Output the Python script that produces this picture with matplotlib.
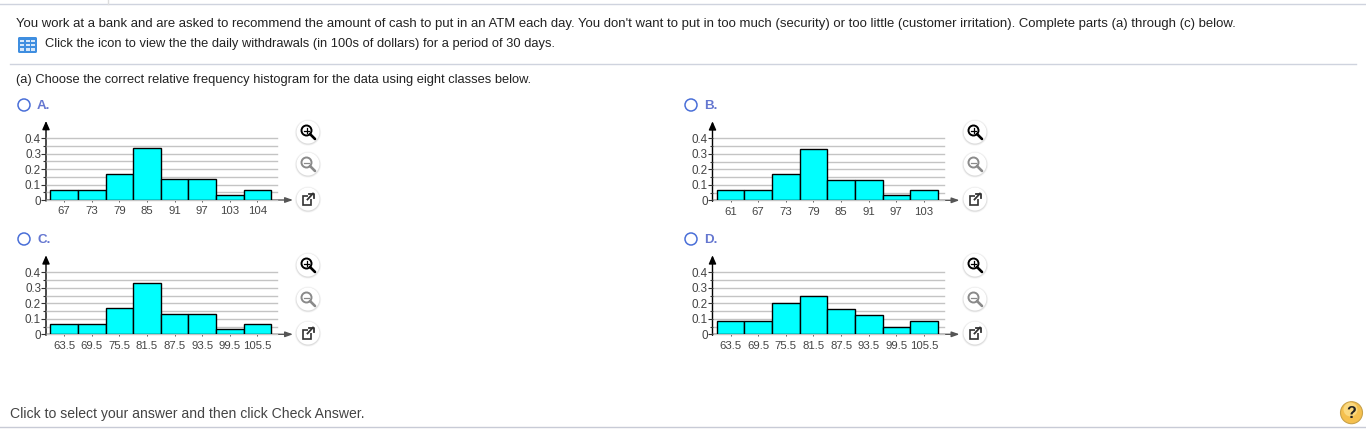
import matplotlib
matplotlib.use('Agg')
import matplotlib.pyplot as plt
from matplotlib.patches import Circle, Rectangle, FancyBboxPatch

# relative frequencies
freq_abc = [0.0667, 0.0667, 0.1667, 0.3333, 0.1333, 0.1333, 0.0333, 0.0667]
freq_d = [0.083, 0.083, 0.2, 0.245, 0.163, 0.125, 0.047, 0.083]

labels_a = ['67', '73', '79', '85', '91', '97', '103', '104']
labels_b = ['61', '67', '73', '79', '85', '91', '97', '103']
labels_cd = ['63.5', '69.5', '75.5', '81.5', '87.5', '93.5', '99.5', '105.5']

W, H = 1366, 437
plt.rcParams['font.family'] = ['Liberation Sans', 'DejaVu Sans']
fig = plt.figure(figsize=(W / 100, H / 100), dpi=100, facecolor='white')

# page layer in pixel coordinates
page = fig.add_axes([0, 0, 1, 1], zorder=0)
page.set_xlim(0, W)
page.set_ylim(H, 0)
page.axis('off')


def px_axes(left, right, top, bottom, **kw):
    return fig.add_axes([left / W, 1 - bottom / H, (right - left) / W, (bottom - top) / H], **kw)


def histogram(y_axis_x, base_y, values, labels):
    # 0.4 sits 62 px above the baseline, bars are about 27.6 px wide
    ax = px_axes(y_axis_x, y_axis_x + 231, base_y - 62, base_y, zorder=2)
    ax.patch.set_alpha(0)
    ax.set_xlim(-0.656, 7.706)
    ax.set_ylim(0, 0.4)
    ax.set_yticks([0, 0.1, 0.2, 0.3, 0.4])
    ax.set_yticklabels(['0', '0.1', '0.2', '0.3', '0.4'])
    ax.set_yticks([0.05, 0.15, 0.25, 0.35], minor=True)
    ax.set_xticks(range(8))
    ax.set_xticklabels(labels)
    ax.grid(True, axis='y', which='both', color='#c4c4c4', lw=1.0, clip_on=False)
    ax.set_axisbelow(True)
    ax.bar(range(8), values, width=1, color='#00ffff', edgecolor='black', lw=1.0, zorder=3)
    for s in ['top', 'right', 'bottom', 'left']:
        ax.spines[s].set_visible(False)
    ax.tick_params(axis='y', which='major', length=3.6, width=0.8, color='#333333',
                   labelsize=8.4, labelcolor='#444444', pad=0)
    ax.tick_params(axis='y', which='minor', length=2, width=0.8, color='#333333')
    ax.tick_params(axis='x', length=1.5, width=0.7, color='#555555',
                   labelsize=8.2, labelcolor='#444444', pad=3)
    # axis arrows
    page.annotate('', xy=(y_axis_x, base_y - 79), xytext=(y_axis_x, base_y + 1),
                  arrowprops=dict(arrowstyle='-|>,head_width=0.22,head_length=0.5',
                                  color='black', lw=1, shrinkA=0, shrinkB=0))
    page.annotate('', xy=(y_axis_x + 247, base_y), xytext=(y_axis_x, base_y),
                  arrowprops=dict(arrowstyle='-|>,head_width=0.16,head_length=0.45',
                                  color='#555555', lw=1, shrinkA=0, shrinkB=0))


def button(x, y, kind):
    # round white button with a soft shadow
    for r, a in [(13.2, 0.03), (12.5, 0.05), (11.9, 0.06)]:
        page.add_patch(Circle((x, y + 0.6), r, fc='black', ec='none', alpha=a))
    page.add_patch(Circle((x, y), 11.5, fc='white', ec='none'))
    if kind == 'link':
        page.add_patch(Rectangle((x - 5, y - 3), 8, 8.5, fc='none', ec='#333333', lw=1.2))
        page.add_patch(Rectangle((x - 0.5, y - 6), 6.5, 6, fc='white', ec='none'))
        page.plot([x - 0.5, x + 5], [y + 0.5, y - 5.5], color='#333333', lw=1.3)
        page.plot([x + 1, x + 5.5, x + 5.5], [y - 5.5, y - 5.5, y - 1], color='#333333', lw=1.3)
        return
    col = 'black' if kind == 'plus' else '#8a8a8a'
    page.add_patch(Circle((x - 1.5, y - 1.5), 5, fc='none', ec=col, lw=1.4))
    page.plot([x + 2, x + 7], [y + 2, y + 7], color=col, lw=1.9, solid_capstyle='round')
    page.plot([x - 3.7, x + 0.7], [y - 1.5, y - 1.5], color=col, lw=0.9)
    if kind == 'plus':
        page.plot([x - 1.5, x - 1.5], [y - 3.7, y + 0.7], color=col, lw=0.9)


def option(x, y, letter):
    page.add_patch(Circle((x, y), 6, fc='white', ec='#4a6fd8', lw=1.1))
    page.text(x + 13, y + 1, letter, fontsize=9.6, color='#4a5fc8', va='center', weight='bold', alpha=0.85)


histogram(46, 200, freq_abc, labels_a)
histogram(712.5, 200.3, freq_abc, labels_b)
histogram(46, 334.3, freq_abc, labels_cd)
histogram(712.5, 334.3, freq_d, labels_cd)

for bx in [308, 975]:
    for by, kind in [(132, 'plus'), (164, 'minus'), (199, 'link'),
                     (265, 'plus'), (299, 'minus'), (333, 'link')]:
        button(bx, by, kind)

option(24, 105, 'A.')
option(691, 105, 'B.')
option(24, 239, 'C.')
option(691, 239, 'D.')

# page text
txt = '#222222'
page.text(16, 24, 'You work at a bank and are asked to recommend the amount of cash to put in an ATM each day. '
          "You don't want to put in too much (security) or too little (customer irritation). "
          'Complete parts (a) through (c) below.', fontsize=9.41, color=txt, va='center')
page.text(45, 44.5, 'Click the icon to view the the daily withdrawals (in 100s of dollars) for a period of 30 days.',
          fontsize=9.31, color=txt, va='center')
page.text(16, 80, '(a) Choose the correct relative frequency histogram for the data using eight classes below.',
          fontsize=9.31, color=txt, va='center')
page.text(10, 414, 'Click to select your answer and then click Check Answer.', fontsize=10.1,
          color='#444444', va='center')

# rules
page.plot([0, W], [4, 4], color='#cfd3de', lw=1)
page.plot([107.5, 107.5], [0, 4], color='#dddddd', lw=1)
page.plot([10, 1356], [64, 64], color='#cfd3de', lw=1)
page.plot([0, W], [427, 427], color='#c8cbd6', lw=1)

# table icon
page.add_patch(FancyBboxPatch((18, 37), 19, 16, boxstyle='round,pad=0,rounding_size=1.5',
                              fc='#3f8ee0', ec='none'))
for gx in [22.2, 27.5, 32.8]:
    for gy in [41, 45.2, 49.4]:
        page.add_patch(Rectangle((gx - 2, gy - 1.3), 4, 2.6, fc='#d5e7fa', ec='none'))

# help icon
page.add_patch(Circle((1351.5, 412.7), 11, fc='#f5c04e', ec='#c9a24a', lw=0.8))
page.add_patch(Circle((1350.5, 409.5), 7, fc='#fbd97f', ec='none'))
page.text(1351.5, 413.5, '?', fontsize=11.5, weight='bold', color='#222222', ha='center', va='center')

fig.savefig('out.png', dpi=100)
